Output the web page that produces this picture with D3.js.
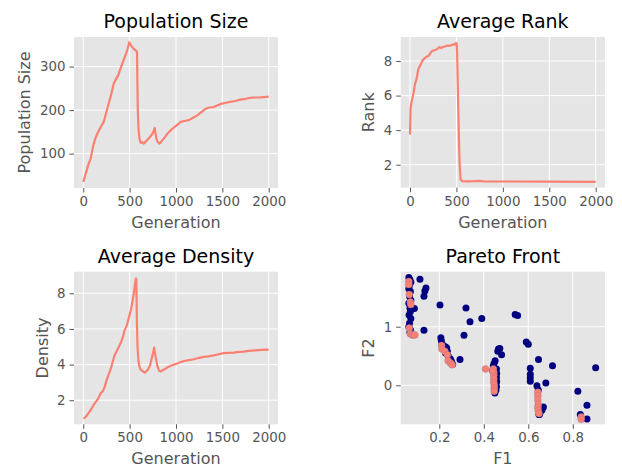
<!DOCTYPE html>
<html><head><meta charset="utf-8">
<script src="https://cdn.jsdelivr.net/npm/d3@7"></script>
<style>body{margin:0;background:#fff}svg{display:block}</style>
</head><body>
<svg id="c" width="622" height="468"></svg>
<script>
// ---- data ----
const popGen  = [0,32,55,79,104,125,150,185,221,240,264,300,329,350,379,395,407,430,461,480,496,510,532,557,575,580,584,588,595,604,612,621,635,650,670,693,720,746,760,771,778,789,800,818,835,854,880,905,925,960,996,1020,1050,1090,1139,1180,1229,1270,1318,1360,1407,1450,1496,1540,1586,1640,1693,1750,1800,1836,1900,1950,2000];
const popSize = [35,58,75,88,115,132,145,160,173,188,207,235,261,270,281,292,299,312,330,342,356,350,344,338,336,330,260,200,160,138,128,125,127,123,127,132,138,146,152,159,148,134,128,123,126,131,138,145,150,157,163,167,173,175,177,182,188,195,203,206,207,211,215,217,219,221,224,226,228,229,229,230,231];

const rankGen = [0,3,6,11,20,29,40,54,65,76,88,101,115,137,155,173,200,227,245,263,290,317,335,353,380,407,430,461,480,497,502,507,515,525,535,545,560,620,700,740,800,1000,1500,2000];
const rankVal = [3.75,4.5,5.2,5.45,5.7,5.92,6.2,6.69,6.85,7.1,7.5,7.65,7.8,8.04,8.15,8.23,8.3,8.52,8.6,8.62,8.68,8.81,8.75,8.81,8.85,8.9,8.88,8.96,8.95,9.05,9.0,8.6,6.5,4.0,2.0,1.15,1.05,1.04,1.05,1.06,1.04,1.03,1.02,1.01];

const densGen = [0,15,32,60,86,120,157,193,210,229,250,264,285,300,320,336,360,389,410,430,443,470,496,515,532,545,557,568,572,578,585,595,604,620,639,664,685,700,720,736,750,764,772,782,800,818,835,854,880,910,943,980,1014,1050,1086,1140,1193,1250,1300,1350,1407,1460,1514,1570,1621,1680,1728,1790,1853,1920,2000];
const densVal = [1.0,1.0,1.1,1.3,1.5,1.8,2.06,2.43,2.5,2.71,3.1,3.31,3.6,3.83,4.2,4.49,4.75,5.05,5.3,5.6,5.89,6.2,6.73,7.1,7.57,8.0,8.5,8.84,8.8,6.45,5.0,4.2,3.93,3.7,3.64,3.55,3.65,3.74,3.95,4.3,4.6,4.95,4.7,4.39,3.9,3.64,3.62,3.68,3.75,3.85,3.93,4.0,4.06,4.14,4.2,4.25,4.3,4.38,4.43,4.46,4.52,4.58,4.64,4.66,4.67,4.71,4.73,4.77,4.8,4.82,4.84];

const allF1 = [0.063,0.068,0.072,0.065,0.063,0.07,0.066,0.072,0.063,0.068,0.07,0.064,0.072,0.066,0.063,0.07,0.068,0.072,0.088,
  0.113,0.14,0.135,0.131,0.203,0.32,0.338,0.391,0.131,0.311,0.541,0.552,0.591,0.6,0.646,0.709,0.609,0.609,0.609,0.609,0.679,0.639,0.903,0.823,0.864,0.668,0.662,0.834,0.864,0.65,0.655,
  0.207,0.209,0.213,0.225,0.233,0.236,0.228,0.24,0.25,0.254,0.26,0.293,
  0.466,0.472,0.463,0.48,0.451,0.446,0.443,0.457,0.458,0.457,0.458,0.457,0.455,0.45,0.44,0.448,
  0.645,0.648];
const allF2 = [1.84,1.80,1.76,1.70,1.65,1.60,1.52,1.45,1.40,1.32,1.26,1.20,1.14,1.06,1.00,0.95,0.90,0.88,1.31,
  1.81,1.66,1.61,1.52,1.37,1.32,1.085,1.14,0.94,0.855,1.21,1.19,0.74,0.70,0.44,0.335,0.29,0.19,0.13,0.07,0.04,-0.01,0.30,-0.10,-0.34,-0.37,-0.42,-0.50,-0.575,-0.50,-0.45,
  0.81,0.76,0.70,0.66,0.64,0.58,0.55,0.50,0.45,0.41,0.36,0.44,
  0.62,0.63,0.58,0.52,0.42,0.37,0.33,0.28,0.20,0.13,0.06,-0.02,-0.08,-0.13,0.25,0.20,
  -0.08,-0.50];
const frontF1 = [0.063,0.063,0.065,0.07,0.072,0.065,0.07,0.078,0.085,0.09,
  0.21,0.212,0.225,0.236,0.24,0.25,0.258,
  0.408,0.443,0.445,0.445,0.445,0.445,0.447,0.447,0.447,0.44,
  0.643,0.643,0.643,0.645,0.643,0.645,0.648,
  0.838,0.838];
const frontF2 = [1.77,1.72,1.55,1.42,1.38,0.98,0.88,0.86,0.86,0.86,
  0.68,0.62,0.58,0.52,0.42,0.38,0.35,
  0.28,0.28,0.22,0.17,0.11,0.05,0.0,-0.05,-0.1,0.25,
  -0.12,-0.18,-0.25,-0.33,-0.38,-0.43,-0.48,
  -0.54,-0.58];

const genTicks = [0,500,1000,1500,2000];
const popTicks = [100,200,300];
const rankTicks = [2,4,6,8];
const densTicks = [2,4,6,8];
const f1Ticks = [0.2,0.4,0.6,0.8];
const f2Ticks = [0,1];

// ---- drawing ----
const svg = d3.select("#c");
const FONT = "DejaVu Sans, sans-serif";
const LINE = "#FA8072";

function panel(o){
  const x = d3.scaleLinear().domain(o.xd).range([o.l, o.r]);
  const y = d3.scaleLinear().domain(o.yd).range([o.b, o.t]);
  const g = svg.append("g");
  g.append("rect").attr("x",o.l).attr("y",o.t).attr("width",o.r-o.l).attr("height",o.b-o.t).attr("fill","#E5E5E5");
  // grid
  g.selectAll(".gx").data(o.xt).enter().append("line")
    .attr("x1",d=>x(d)).attr("x2",d=>x(d)).attr("y1",o.t).attr("y2",o.b)
    .attr("stroke","#fff").attr("stroke-width",1);
  g.selectAll(".gy").data(o.yt).enter().append("line")
    .attr("y1",d=>y(d)).attr("y2",d=>y(d)).attr("x1",o.l).attr("x2",o.r)
    .attr("stroke","#fff").attr("stroke-width",1);
  // axes
  const ax = d3.axisBottom(x).tickValues(o.xt).tickSize(4.5).tickPadding(4).tickFormat(o.xf || d3.format("d"));
  const ay = d3.axisLeft(y).tickValues(o.yt).tickSize(4.5).tickPadding(4).tickFormat(o.yf || d3.format("d"));
  const gx = g.append("g").attr("transform",`translate(0,${o.b})`).call(ax);
  const gy = g.append("g").attr("transform",`translate(${o.l},0)`).call(ay);
  [gx,gy].forEach(a=>{
    a.select(".domain").remove();
    a.selectAll(".tick line").attr("stroke","#555");
    a.selectAll(".tick text").attr("fill","#555").style("font-family",FONT).style("font-size","13.4px");
  });
  // title & labels
  g.append("text").attr("x",(o.l+o.r)/2).attr("y",o.t-9).attr("text-anchor","middle")
    .style("font-family",FONT).style("font-size","19px").attr("fill","#000").text(o.title);
  g.append("text").attr("x",(o.l+o.r)/2).attr("y",o.b+40).attr("text-anchor","middle")
    .style("font-family",FONT).style("font-size","16px").attr("fill","#555").text(o.xl);
  g.append("text").attr("transform",`translate(${o.ylx},${(o.t+o.b)/2}) rotate(-90)`).attr("text-anchor","middle")
    .style("font-family",FONT).style("font-size","16px").attr("fill","#555").text(o.yl);
  const clip = "clip"+Math.round(o.l)+"_"+Math.round(o.t);
  svg.append("clipPath").attr("id",clip).append("rect").attr("x",o.l).attr("y",o.t).attr("width",o.r-o.l).attr("height",o.b-o.t);
  return {x,y,g,clip};
}

function linePanel(o, xs, ys){
  const p = panel(o);
  const pts = xs.map((d,i)=>[d, ys[i]]);
  p.g.append("path").datum(pts)
    .attr("d", d3.line().x(d=>p.x(d[0])).y(d=>p.y(d[1])))
    .attr("fill","none").attr("stroke",LINE).attr("stroke-width",2.2).attr("stroke-linejoin","round")
    .attr("clip-path",`url(#${p.clip})`);
}

linePanel({l:74,r:278,t:37,b:188,xd:[-100,2100],yd:[21,368],xt:genTicks,yt:popTicks,
  title:"Population Size",xl:"Generation",yl:"Population Size",ylx:29.5}, popGen, popSize);
linePanel({l:400.7,r:605,t:37,b:187.7,xd:[-100,2100],yd:[0.67,9.39],xt:genTicks,yt:rankTicks,
  title:"Average Rank",xl:"Generation",yl:"Rank",ylx:373.5}, rankGen, rankVal);
linePanel({l:74,r:278,t:271.7,b:424.3,xd:[-100,2100],yd:[0.65,9.21],xt:genTicks,yt:densTicks,
  title:"Average Density",xl:"Generation",yl:"Density",ylx:48}, densGen, densVal);

const pp = panel({l:400.7,r:605,t:271.7,b:424.3,xd:[0.0264,0.945],yd:[-0.666,1.939],xt:f1Ticks,yt:f2Ticks,
  xf:d3.format(".1f"), yf:d3.format("d"),
  title:"Pareto Front",xl:"F1",yl:"F2",ylx:373.5});
pp.g.selectAll(".all").data(allF1.map((d,i)=>[d,allF2[i]])).enter().append("circle")
  .attr("cx",d=>pp.x(d[0])).attr("cy",d=>pp.y(d[1])).attr("r",3.5).attr("fill","#000080");
pp.g.selectAll(".front").data(frontF1.map((d,i)=>[d,frontF2[i]])).enter().append("circle")
  .attr("cx",d=>pp.x(d[0])).attr("cy",d=>pp.y(d[1])).attr("r",3.5).attr("fill","#FA8072")
  .attr("stroke","#a070a0").attr("stroke-width",0.6).attr("stroke-opacity",0.6);
</script>
</body></html>
